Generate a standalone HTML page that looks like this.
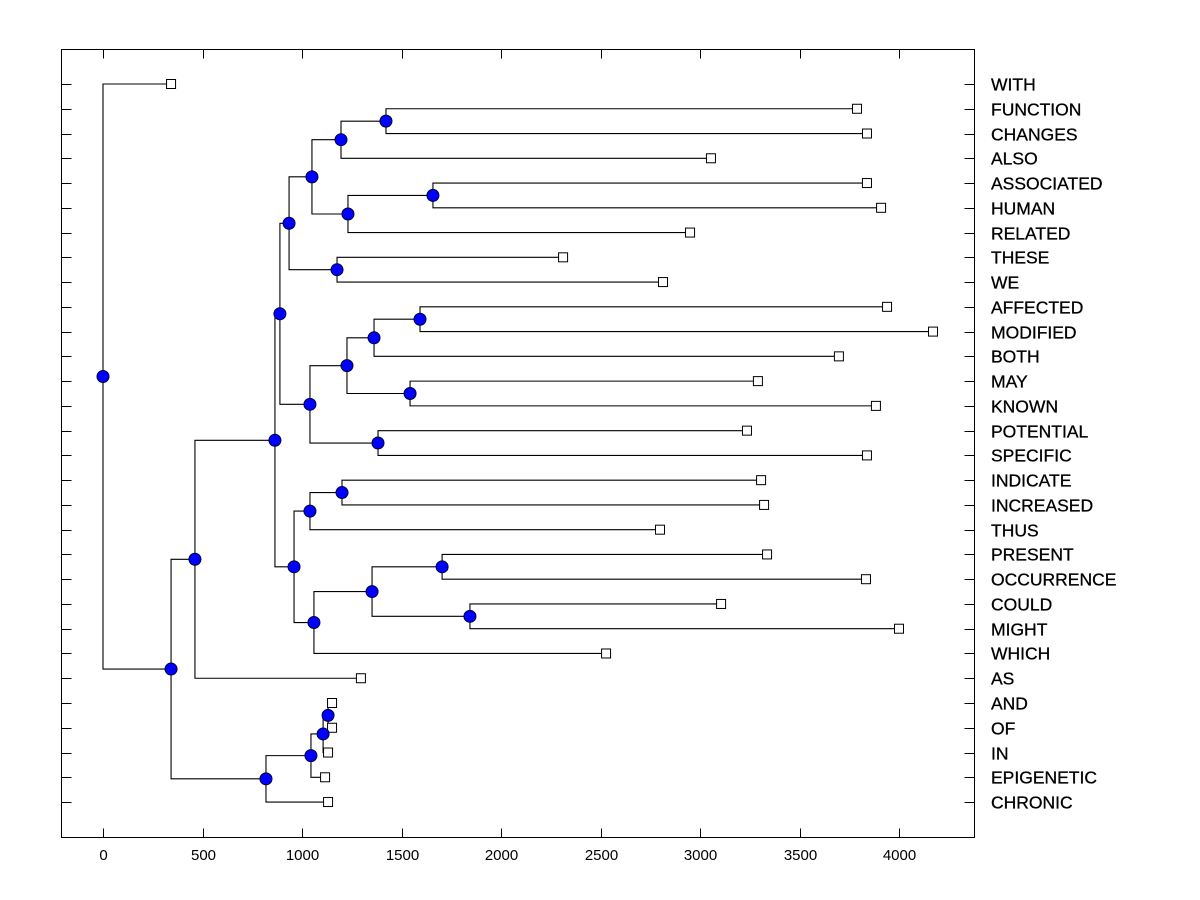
<!DOCTYPE html>
<html><head><meta charset="utf-8">
<style>
html,body{margin:0;padding:0;background:#fff;}
svg{display:block;}
text{font-family:"Liberation Sans",Arial,sans-serif;}
</style></head>
<body>
<svg id="chart" width="1200" height="900" xmlns="http://www.w3.org/2000/svg"></svg>
<script>
const leafNames = ["WITH","FUNCTION","CHANGES","ALSO","ASSOCIATED","HUMAN","RELATED","THESE","WE","AFFECTED","MODIFIED","BOTH","MAY","KNOWN","POTENTIAL","SPECIFIC","INDICATE","INCREASED","THUS","PRESENT","OCCURRENCE","COULD","MIGHT","WHICH","AS","AND","OF","IN","EPIGENETIC","CHRONIC"];
const leafValues = [342,3789,3839,3055,3839,3910,2950,2312,2814,3940,4171,3698,3291,3884,3236,3839,3307,3322,2799,3337,3834,3106,4000,2528,1296,1151,1151,1131,1116,1131];
const mergeLeft  = [1,30,4,32,31,7,34,9,37,12,38,14,40,36,16,44,19,21,46,48,45,43,51,25,53,54,55,52,0];
const mergeRight = [2,3,5,6,33,8,35,10,11,13,39,15,41,42,17,18,20,22,47,23,49,50,24,26,27,28,29,56,57];
const mergeValues = [1422,1196,1658,1231,1050,1176,935,1593,1362,1543,1226,1382,1040,889,1201,1040,1704,1844,1352,1060,960,864,462,1131,1106,1045,819,342,0];
const xTicks = [0,500,1000,1500,2000,2500,3000,3500,4000];

const L=61.5,T=49.5,R=974.5,B=837.5;
const xs = v => 103 + v*0.199;
const ys = i => 84 + i*24.76;
const svg = document.getElementById('chart');
const NS='http://www.w3.org/2000/svg';
function mk(tag, attrs, parent){const e=document.createElementNS(NS,tag);for(const k in attrs)e.setAttribute(k,attrs[k]);(parent||svg).appendChild(e);return e;}

const frame = mk('rect',{x:L,y:T,width:R-L,height:B-T,fill:'none',stroke:'#000','stroke-width':1});



xTicks.forEach(t=>{
  const x=Math.round(xs(t))+0.5;
  const tb=mk('line',{x1:x,x2:x,y1:B,y2:B-9,stroke:'#000'});
  
  
  const tt=mk('line',{x1:x,x2:x,y1:T,y2:T+9,stroke:'#000'});
  
  
  const lb=mk('text',{x:x,y:860,'text-anchor':'middle','font-size':15});
  lb.textContent=t;
  
  
});

leafNames.forEach((n,i)=>{
  const y=Math.round(ys(i))+0.5;
  const tl=mk('line',{x1:L,x2:L+10,y1:y,y2:y,stroke:'#000'});
  
  
  const tr=mk('line',{x1:R,x2:R-10,y1:y,y2:y,stroke:'#000'});
  
  
  const lb=mk('text',{x:991,y:y+6,'font-size':17.5,stroke:'#000','stroke-width':0.3});
  lb.textContent=n;
  
  
});

const N=leafNames.length;
const nodeX=[], nodeY=[];
leafValues.forEach((v,i)=>{nodeX[i]=xs(v);nodeY[i]=ys(i);});
mergeValues.forEach((v,k)=>{
  const id=N+k, a=mergeLeft[k], b=mergeRight[k];
  nodeX[id]=xs(v); nodeY[id]=(nodeY[a]+nodeY[b])/2;
});
const g=mk('g',{});


mergeValues.forEach((v,k)=>{
  const id=N+k, a=mergeLeft[k], b=mergeRight[k];
  const x=nodeX[id];
  const p=mk('path',{d:`M${nodeX[a]},${nodeY[a]}H${x}V${nodeY[b]}H${nodeX[b]}`,fill:'none',stroke:'#000','stroke-width':1.1},g);
  
  
});
leafValues.forEach((v,i)=>{
  const s=mk('rect',{x:nodeX[i]-4.5,y:nodeY[i]-4.5,width:9,height:9,fill:'#fff',stroke:'#000','stroke-width':1});
  
  
});
mergeValues.forEach((v,k)=>{
  const id=N+k;
  const c=mk('circle',{cx:nodeX[id],cy:nodeY[id],r:6,fill:'#0000ff',stroke:'#000033','stroke-width':1});
  
  
});
</script>
</body></html>
